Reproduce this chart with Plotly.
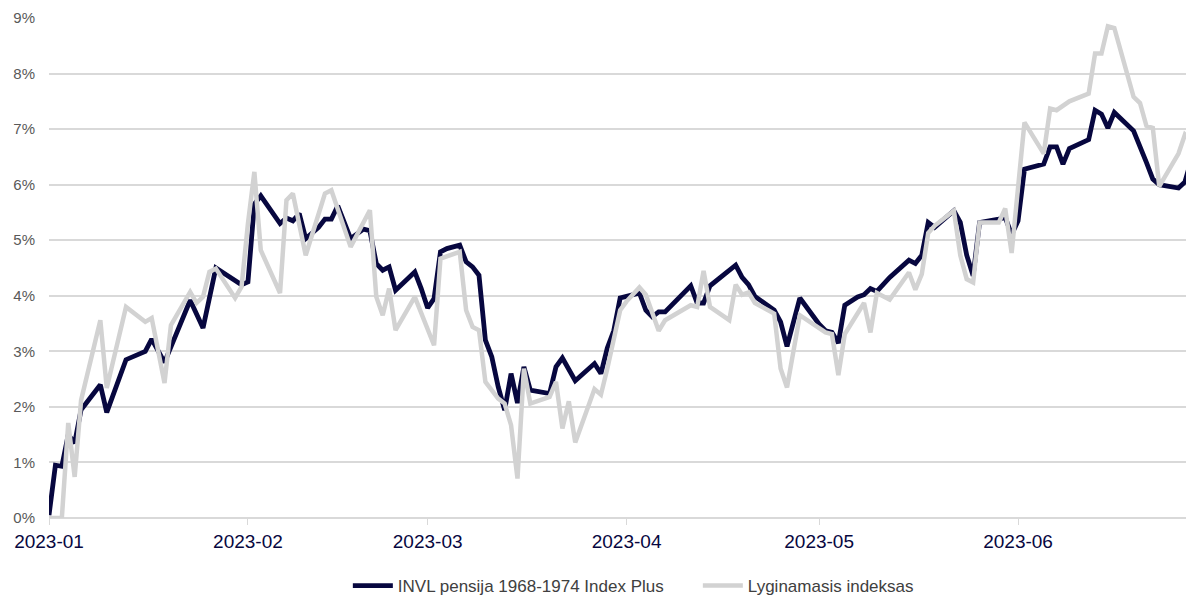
import plotly.graph_objects as go

fund_name = "INVL pensija 1968-1974 Index Plus"
bench_name = "Lyginamasis indeksas"

fund_dates = [
    "2023-01-01", "2023-01-02", "2023-01-03", "2023-01-04", "2023-01-05", "2023-01-06",
    "2023-01-09", "2023-01-10", "2023-01-13", "2023-01-16", "2023-01-17", "2023-01-19",
    "2023-01-23", "2023-01-25", "2023-01-27", "2023-01-31",
    "2023-02-01", "2023-02-02", "2023-02-03", "2023-02-06", "2023-02-07", "2023-02-08",
    "2023-02-09", "2023-02-10", "2023-02-12", "2023-02-13", "2023-02-14", "2023-02-15",
    "2023-02-17", "2023-02-19", "2023-02-20", "2023-02-21", "2023-02-22", "2023-02-23",
    "2023-02-24", "2023-02-27", "2023-02-28",
    "2023-03-01", "2023-03-02", "2023-03-03", "2023-03-04", "2023-03-06", "2023-03-07",
    "2023-03-08", "2023-03-09", "2023-03-10", "2023-03-11", "2023-03-12", "2023-03-13",
    "2023-03-14", "2023-03-15", "2023-03-16", "2023-03-17", "2023-03-20", "2023-03-21",
    "2023-03-22", "2023-03-24", "2023-03-27", "2023-03-28", "2023-03-29", "2023-03-30",
    "2023-03-31",
    "2023-04-01", "2023-04-03", "2023-04-04", "2023-04-05", "2023-04-06", "2023-04-07",
    "2023-04-11", "2023-04-12", "2023-04-13", "2023-04-14", "2023-04-18", "2023-04-19",
    "2023-04-20", "2023-04-21", "2023-04-24", "2023-04-25", "2023-04-26", "2023-04-28",
    "2023-05-01", "2023-05-02", "2023-05-03", "2023-05-04", "2023-05-05", "2023-05-07",
    "2023-05-08", "2023-05-09", "2023-05-10", "2023-05-12", "2023-05-15", "2023-05-16",
    "2023-05-17", "2023-05-18", "2023-05-19", "2023-05-22", "2023-05-23", "2023-05-24",
    "2023-05-25", "2023-05-26", "2023-05-29", "2023-05-30", "2023-05-31",
    "2023-06-01", "2023-06-02", "2023-06-05", "2023-06-06", "2023-06-07", "2023-06-08",
    "2023-06-09", "2023-06-12", "2023-06-13", "2023-06-14", "2023-06-15", "2023-06-16",
    "2023-06-19", "2023-06-21", "2023-06-22", "2023-06-23", "2023-06-26", "2023-06-27",
    "2023-06-28", "2023-06-29",
]
fund_values = [
    0.05, 0.95, 0.93, 1.50, 1.35, 1.95,
    2.40, 1.90, 2.85, 3.00, 3.22, 2.80,
    3.92, 3.42, 4.50, 4.20,
    4.25, 5.65, 5.80, 5.30, 5.40, 5.35,
    5.48, 5.03, 5.23, 5.38, 5.38, 5.62,
    5.03, 5.20, 5.17, 4.58, 4.46, 4.52,
    4.10, 4.43, 4.13,
    3.78, 3.95, 4.79, 4.85, 4.91, 4.61,
    4.52, 4.37, 3.20, 2.90, 2.36, 1.94,
    2.60, 2.07, 2.72, 2.30, 2.24, 2.72,
    2.88, 2.47, 2.78, 2.60, 3.06, 3.37,
    3.96,
    3.99, 4.05, 3.74, 3.62, 3.71, 3.71,
    4.18, 3.87, 3.87, 4.18, 4.55, 4.33,
    4.20, 3.99, 3.74, 3.53, 3.09, 3.96,
    3.49, 3.37, 3.34, 3.15, 3.83, 3.98,
    4.02, 4.13, 4.08, 4.33, 4.64, 4.58,
    4.73, 5.32, 5.23, 5.53, 5.32, 4.73,
    4.36, 5.32, 5.38, 5.41, 5.10,
    5.35, 6.28, 6.37, 6.68, 6.68, 6.37,
    6.65, 6.81, 7.34, 7.27, 7.02, 7.30,
    6.97, 6.40, 6.10, 6.00, 5.94, 6.05,
    6.45, 6.65,
]

bench_dates = [
    "2023-01-01", "2023-01-03", "2023-01-04", "2023-01-05", "2023-01-06", "2023-01-09",
    "2023-01-10", "2023-01-13", "2023-01-16", "2023-01-17", "2023-01-19", "2023-01-20",
    "2023-01-23", "2023-01-24", "2023-01-25", "2023-01-26", "2023-01-27", "2023-01-30",
    "2023-01-31",
    "2023-02-01", "2023-02-02", "2023-02-03", "2023-02-06", "2023-02-07", "2023-02-08",
    "2023-02-10", "2023-02-13", "2023-02-14", "2023-02-17", "2023-02-20", "2023-02-21",
    "2023-02-22", "2023-02-23", "2023-02-24", "2023-02-27", "2023-02-28",
    "2023-03-02", "2023-03-03", "2023-03-06", "2023-03-07", "2023-03-08", "2023-03-09",
    "2023-03-10", "2023-03-12", "2023-03-13", "2023-03-14", "2023-03-15", "2023-03-16",
    "2023-03-17", "2023-03-20", "2023-03-21", "2023-03-22", "2023-03-23", "2023-03-24",
    "2023-03-27", "2023-03-28", "2023-03-29", "2023-03-31",
    "2023-04-01", "2023-04-03", "2023-04-04", "2023-04-06", "2023-04-07", "2023-04-11",
    "2023-04-12", "2023-04-13", "2023-04-14", "2023-04-17", "2023-04-18", "2023-04-19",
    "2023-04-20", "2023-04-21", "2023-04-24", "2023-04-25", "2023-04-26", "2023-04-28",
    "2023-05-02", "2023-05-03", "2023-05-04", "2023-05-05", "2023-05-08", "2023-05-09",
    "2023-05-10", "2023-05-12", "2023-05-15", "2023-05-16", "2023-05-17", "2023-05-18",
    "2023-05-19", "2023-05-22", "2023-05-23", "2023-05-24", "2023-05-25", "2023-05-26",
    "2023-05-29", "2023-05-30", "2023-05-31",
    "2023-06-02", "2023-06-05", "2023-06-06", "2023-06-07", "2023-06-09", "2023-06-12",
    "2023-06-13", "2023-06-14", "2023-06-15", "2023-06-16", "2023-06-19", "2023-06-20",
    "2023-06-21", "2023-06-22", "2023-06-23", "2023-06-26", "2023-06-27", "2023-06-28",
    "2023-06-29",
]
bench_values = [
    0.00, 0.00, 1.71, 0.74, 2.12, 3.56,
    2.34, 3.80, 3.53, 3.60, 2.43, 3.47,
    4.07, 3.87, 3.98, 4.43, 4.49, 3.96,
    4.16,
    5.30, 6.23, 4.82, 4.05, 5.72, 5.84,
    4.73, 5.84, 5.90, 4.88, 5.54, 3.98,
    3.65, 4.13, 3.38, 3.98, 3.68,
    3.11, 4.67, 4.79, 3.74, 3.44, 3.38,
    2.45, 2.15, 2.06, 1.67, 0.71, 2.69,
    2.06, 2.18, 2.45, 1.61, 2.10, 1.36,
    2.32, 2.22, 2.69, 3.74,
    3.90, 4.15, 4.02, 3.37, 3.56, 3.83,
    3.80, 4.45, 3.80, 3.56, 4.20, 4.02,
    4.06, 3.87, 3.68, 2.69, 2.35, 3.65,
    3.34, 3.31, 2.57, 3.31, 3.87, 3.34,
    4.05, 3.93, 4.42, 4.11, 4.39, 5.13,
    5.26, 5.53, 4.73, 4.30, 4.24, 5.32,
    5.32, 5.57, 4.77,
    7.12, 6.56, 7.37, 7.34, 7.50, 7.64,
    8.36, 8.36, 8.85, 8.82, 7.58, 7.47,
    7.06, 7.02, 5.97, 6.56, 6.90, 6.78,
    6.95,
]

x_tick_vals = ["2023-01-01", "2023-02-01", "2023-03-01", "2023-04-01", "2023-05-01", "2023-06-01"]
x_tick_text = ["2023-01", "2023-02", "2023-03", "2023-04", "2023-05", "2023-06"]
y_tick_vals = [0, 1, 2, 3, 4, 5, 6, 7, 8, 9]
y_tick_text = ["0%", "1%", "2%", "3%", "4%", "5%", "6%", "7%", "8%", "9%"]

NAVY = "#07073f"
GRAY = "#d2d2d2"
FONT = "Liberation Sans, Arial, sans-serif"

fig = go.Figure()
fig.add_trace(go.Scatter(x=fund_dates, y=fund_values, name=fund_name, mode="lines",
                         line=dict(color=NAVY, width=4.8)))
fig.add_trace(go.Scatter(x=bench_dates, y=bench_values, name=bench_name, mode="lines",
                         line=dict(color=GRAY, width=4.5)))

# the page body has an 8px margin, so the figure is sized to the remaining view
fig.update_layout(
    width=1186, height=590,
    margin=dict(l=41, r=0, t=10, b=80, autoexpand=False),
    paper_bgcolor="white", plot_bgcolor="white",
    font=dict(family=FONT),
    showlegend=True,
    legend=dict(orientation="h", x=0.261, xanchor="left", y=-0.136, yanchor="middle",
                font=dict(size=17, color="#404040", family=FONT), traceorder="normal",
                itemwidth=40, entrywidth=295, entrywidthmode="pixels"),
    xaxis=dict(
        type="date", range=["2023-01-01", "2023-06-28 10:00"],
        tickmode="array", tickvals=x_tick_vals, ticktext=x_tick_text,
        ticks="outside", ticklen=6, tickcolor="#d9d9d9", tickwidth=1,
        tickfont=dict(size=19, color=NAVY, family=FONT),
        showgrid=False, showline=False, zeroline=False, automargin=False,
        ticklabelstandoff=0,
    ),
    yaxis=dict(
        range=[0, 9], tickmode="array", tickvals=y_tick_vals, ticktext=y_tick_text,
        tickfont=dict(size=15, color="#595959", family=FONT),
        showgrid=True, gridcolor="#d9d9d9", gridwidth=1.5,
        zeroline=True, zerolinecolor="#d9d9d9", zerolinewidth=1.5,
        showline=False, ticks="", ticklabelstandoff=13, automargin=False,
    ),
)

fig.write_html("out.html")
